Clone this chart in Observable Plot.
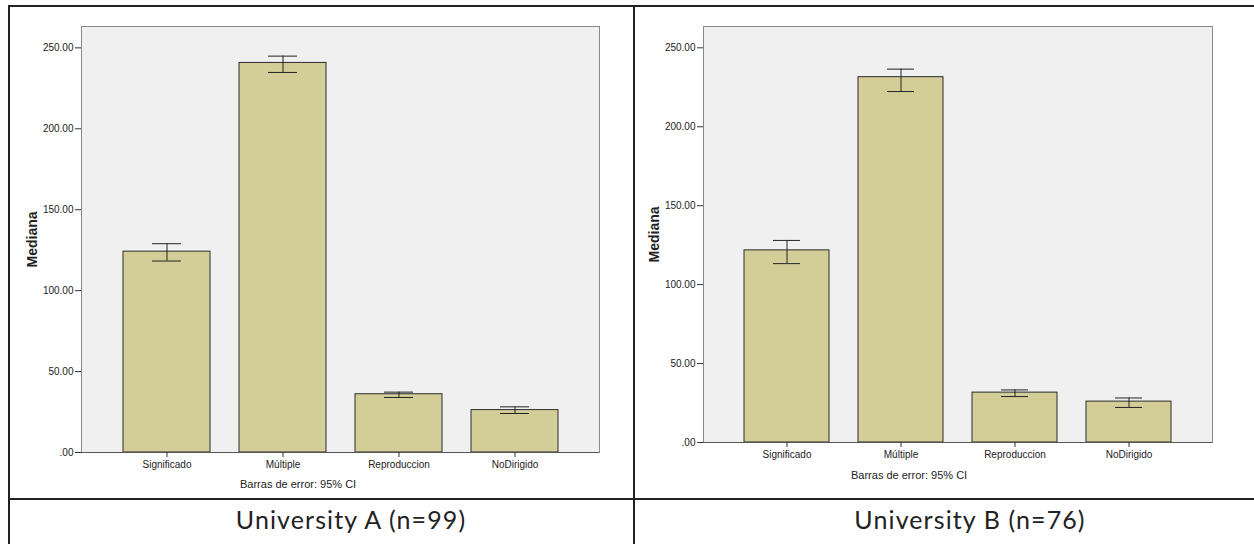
<!DOCTYPE html>
<html>
<head>
<meta charset="utf-8">
<script src="https://cdn.jsdelivr.net/npm/d3@7"></script>
<script src="https://cdn.jsdelivr.net/npm/@observablehq/plot@0.6"></script>
<style>
  html, body { margin: 0; padding: 0; background: #fff; }
  #wrap { position: relative; width: 1254px; height: 544px; overflow: hidden; background: #fff; }
  .line { position: absolute; background: #222; }
  .panel { position: absolute; top: 0; }
  .note { position: absolute; font-family: "Liberation Sans", Arial, sans-serif; font-size: 11px; color: #222; white-space: nowrap; }
  .uni { position: absolute; font-family: Lato, "Noto Sans", sans-serif; font-size: 25px; color: #222; white-space: nowrap; transform: translateX(-50%); letter-spacing: 1.1px; }
  svg [aria-label="y-axis label"] { font-weight: bold; font-size: 14px; }
</style>
</head>
<body>
<div id="wrap">
  <div class="line" style="left:8px; top:5px; width:1246px; height:2px;"></div>
  <div class="line" style="left:8px; top:5px; width:2px; height:539px;"></div>
  <div class="line" style="left:633px; top:5px; width:2px; height:539px;"></div>
  <div class="line" style="left:8px; top:498px; width:1246px; height:2px;"></div>
  <div class="panel" id="pA" style="left:0px;"></div>
  <div class="panel" id="pB" style="left:630px;"></div>
  <div class="note" style="left:240px; top:478px;">Barras de error: 95% CI</div>
  <div class="note" style="left:851px; top:469px;">Barras de error: 95% CI</div>
  <div class="uni" style="left:351px; top:504px;">University A (n=99)</div>
  <div class="uni" style="left:970px; top:504px;">University B (n=76)</div>
</div>
<script>
const categories = ["Significado", "Múltiple", "Reproduccion", "NoDirigido"];
const medianA = [124.1, 240.7, 36.0, 26.2];
const lowA = [118.3, 234.8, 34.0, 24.1];
const highA = [129.0, 244.9, 37.3, 28.2];
const medianB = [121.7, 231.4, 31.6, 25.9];
const lowB = [113.3, 222.3, 29.1, 22.2];
const highB = [128.0, 236.5, 33.3, 28.2];
const yTicks = [0, 50, 100, 150, 200, 250];

const fmt = d => d === 0 ? ".00" : d.toFixed(2);

function makeChart(median, low, high, o) {
  const data = categories.map((c, i) => ({cat: c, val: median[i], lo: low[i], hi: high[i]}));
  return Plot.plot({
    width: o.width,
    height: o.height,
    marginLeft: o.marginLeft,
    marginRight: o.marginRight,
    marginTop: 26,
    marginBottom: 30,
    style: {fontFamily: "'Liberation Sans', Arial, sans-serif", fontSize: "10px", color: "#222", background: "transparent", overflow: "visible"},
    x: {domain: categories, paddingInner: 0.253, paddingOuter: 0.345, label: null},
    y: {domain: [0, o.ymax], label: null},
    marks: [
      Plot.frame({fill: "#f0f0f0", stroke: "#888"}),
      Plot.barY(data, {x: "cat", y: "val", fill: "#d3ce98", stroke: "#2a2a2a", strokeWidth: 1}),
      Plot.ruleX(data, {x: "cat", y1: "lo", y2: "hi", stroke: "#222", strokeWidth: 1}),
      Plot.tickY(data, {x: "cat", y: "lo", stroke: "#222", strokeWidth: 1, inset: 29}),
      Plot.tickY(data, {x: "cat", y: "hi", stroke: "#222", strokeWidth: 1, inset: 29}),
      Plot.ruleY([0], {stroke: "#555"}),
      Plot.axisY({ticks: yTicks, tickFormat: fmt, tickSize: 6, tickPadding: 2, label: "Mediana", labelAnchor: "center", labelArrow: "none", labelOffset: 54, stroke: "#333"}),
      Plot.axisX({tickSize: 5, tickPadding: 3, label: null, stroke: "#333", fontSize: "10px"})
    ]
  });
}

document.getElementById("pA").appendChild(
  makeChart(medianA, lowA, highA, {width: 620, height: 482, marginLeft: 81, marginRight: 21, ymax: 263.2})
);
document.getElementById("pB").appendChild(
  makeChart(medianB, lowB, highB, {width: 592, height: 472, marginLeft: 73, marginRight: 10, ymax: 263.5})
);
</script>
</body>
</html>
